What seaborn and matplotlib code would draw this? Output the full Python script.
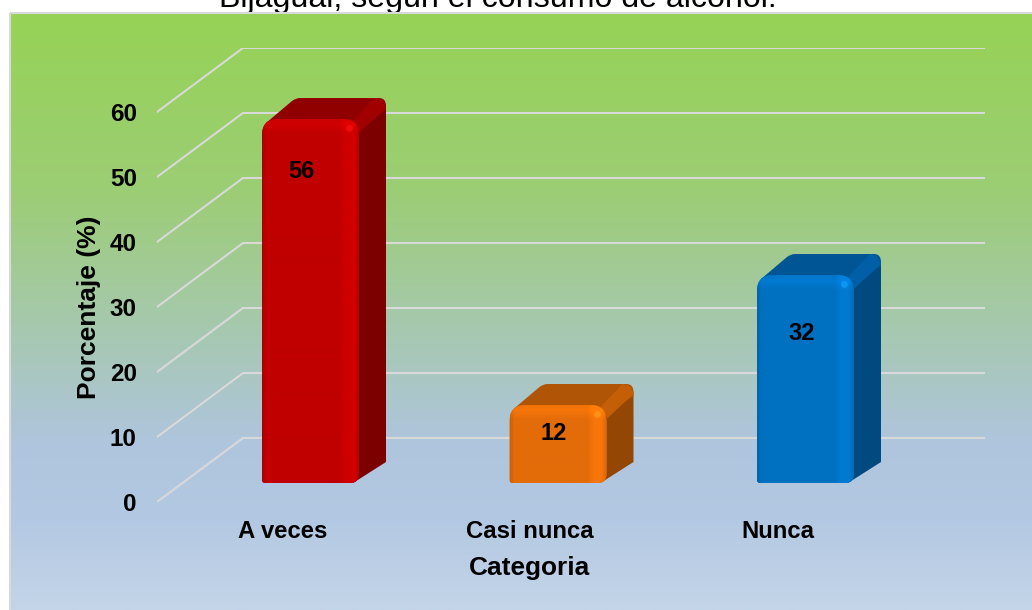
"""Bar chart with a hand-made 3D look: percentages per alcohol category."""
import matplotlib
matplotlib.use("Agg")
import matplotlib.pyplot as plt
import numpy as np
import pandas as pd
import seaborn as sns
from matplotlib.colors import LinearSegmentedColormap
from matplotlib.patches import PathPatch, Polygon, Rectangle
from matplotlib.path import Path
from matplotlib.transforms import IdentityTransform, ScaledTranslation

categories = ["A veces", "Casi nunca", "Nunca"]
percentages = [56, 12, 32]
y_ticks = [0, 10, 20, 30, 40, 50, 60]

face_colors = ["#C00000", "#E36C09", "#0070C0"]
side_colors = ["#7D0000", "#944704", "#004A80"]
top_colors = ["#910000", "#B05506", "#005594"]

W, H = 1032, 610
DPI = 100
AX_LEFT, AX_RIGHT, AX_TOP, AX_BOTTOM = 157, 985, 48, 502  # pixels, from the top
PX_PER_UNIT = 6.5
PX_PER_CAT = 247.5
WALL_DX, WALL_DY = 86, 64  # floor depth of the side gridlines
BAR_DX, BAR_DY = 27, 21  # depth of the bars
BAR_LIFT = 19  # bars stand this far behind the axis plane

sns.set_theme(style="white")
plt.rcParams["font.family"] = ["Liberation Sans", "DejaVu Sans"]

fig = plt.figure(figsize=(W / DPI, H / DPI), dpi=DPI, facecolor="white")

# background panel with its vertical gradient
bg = fig.add_axes([0, 0, 1, 1], zorder=0)
bg.set_xlim(0, W)
bg.set_ylim(H, 0)
bg.axis("off")
bg_cmap = LinearSegmentedColormap.from_list(
    "panel",
    [(0.0, "#96D355"), (0.30, "#9CCD75"), (0.50, "#A5C9A8"),
     (0.72, "#AFC5DD"), (0.85, "#B3C8E2"), (1.0, "#C4D5E9")],
)
bg.imshow(np.linspace(0, 1, 256)[:, None], cmap=bg_cmap, aspect="auto",
          extent=[10, W, H, 13])
bg.set_xlim(0, W)
bg.set_ylim(H, 0)
bg.add_patch(Rectangle((10, 13), W, H, fill=False, ec="#D9D9D9", lw=1.5))

# the title is cut by the image's top edge, as in the original picture
fig.text(497.5 / W, 1 - 7.5 / H, "Bijagual, según el consumo de alcohol.",
         ha="center", va="baseline", fontsize=23.1, color="black", zorder=-1)

ax = fig.add_axes([AX_LEFT / W, 1 - AX_BOTTOM / H,
                   (AX_RIGHT - AX_LEFT) / W, (AX_BOTTOM - AX_TOP) / H], zorder=2)
ax.patch.set_alpha(0)

df = pd.DataFrame({"categoria": categories, "porcentaje": percentages})
sns.barplot(data=df, x="categoria", y="porcentaje", hue="categoria",
            palette=face_colors, legend=False, width=97 / PX_PER_CAT,
            bottom=BAR_LIFT / PX_PER_UNIT, saturation=1, ax=ax, zorder=3)

x_left = (AX_LEFT - 310.5) / PX_PER_CAT
ax.set_xlim(x_left, (AX_RIGHT - 310.5) / PX_PER_CAT)
ax.set_ylim(0, (AX_BOTTOM - AX_TOP) / PX_PER_UNIT)
sns.despine(ax=ax, left=True, bottom=True)

# gridlines: a floor-to-wall diagonal and a horizontal run on the back wall
wall_x = x_left + WALL_DX / PX_PER_CAT
wall_up = WALL_DY / PX_PER_UNIT
for v in y_ticks:
    ax.plot([x_left, wall_x], [v, v + wall_up], color="#D9D9D9", lw=1.5, zorder=1)
    ax.plot([wall_x, ax.get_xlim()[1]], [v + wall_up, v + wall_up],
            color="#D9D9D9", lw=1.5, zorder=1)

ax.set_yticks(y_ticks)
ax.set_yticklabels([str(v) for v in y_ticks], fontsize=17.5, fontweight="bold", color="black")
ax.set_xticks(range(len(categories)))
ax.set_xticklabels(categories, fontsize=17.2, fontweight="bold", color="black")
ax.tick_params(axis="y", length=0, pad=14.5)
ax.tick_params(axis="x", length=0, pad=13)
shift = ScaledTranslation(-28 / DPI, 0, fig.dpi_scale_trans)
for lbl in ax.get_xticklabels():
    lbl.set_transform(lbl.get_transform() + shift)

ax.set_xlabel("Categoria", fontsize=18.9, fontweight="bold", color="black")
ax.set_ylabel("Porcentaje (%)", fontsize=19, fontweight="bold", color="black")
ax.xaxis.set_label_coords((529 - AX_LEFT) / (AX_RIGHT - AX_LEFT),
                          (AX_BOTTOM - 556) / (AX_BOTTOM - AX_TOP))
ax.yaxis.set_label_coords((101 - AX_LEFT) / (AX_RIGHT - AX_LEFT),
                          (AX_BOTTOM - 307) / (AX_BOTTOM - AX_TOP))


def rounded_face(x0, y0, x1, y1, r_top=16, r_bl=3, r_br=9):
    """Closed path for a bar front, in display pixels."""
    verts = [(x0 + r_bl, y0), (x1 - r_br, y0), (x1, y0), (x1, y0 + r_br),
             (x1, y1 - r_top), (x1, y1), (x1 - r_top, y1),
             (x0 + r_top, y1), (x0, y1), (x0, y1 - r_top),
             (x0, y0 + r_bl), (x0, y0), (x0 + r_bl, y0), (x0 + r_bl, y0)]
    codes = [Path.MOVETO, Path.LINETO, Path.CURVE3, Path.CURVE3,
             Path.LINETO, Path.CURVE3, Path.CURVE3,
             Path.LINETO, Path.CURVE3, Path.CURVE3,
             Path.LINETO, Path.CURVE3, Path.CURVE3, Path.CLOSEPOLY]
    return Path(verts, codes)


def face_shading(base, w, h):
    """RGB image: lighter rim along the top and right edge, soft left edge."""
    rgb = np.array(matplotlib.colors.to_rgb(base))
    xs = np.interp(np.arange(w), [0, 4, w - 20, w - 13, w - 6, w - 1], [0.90, 1, 1, 1.09, 1.09, 0.96])
    ys = np.interp(np.arange(h), [0, h - 16, h - 6, h - 1], [1.0, 1.0, 1.09, 1.04])
    shade = np.outer(ys[::-1], xs)[..., None]
    return np.clip(rgb * shade, 0, 1)[::-1]


fig.canvas.draw()
ident = IdentityTransform()
for bar, face, side, top in zip(ax.patches, face_colors, side_colors, top_colors):
    ext = bar.get_window_extent()
    x0, y0, x1, y1 = ext.x0, ext.y0, ext.x1, ext.y1
    bar.set_visible(False)

    # side and top faces behind the front
    ax.add_patch(Polygon([(x1 - 6, y0), (x1 + BAR_DX, y0 + BAR_DY), (x1 + BAR_DX, y1 + BAR_DY - 8),
                          (x1 - 4, y1 - 8)], closed=True, fc=side, ec="none",
                         transform=ident, zorder=3, clip_on=False))
    top_path = Path([(x0 + 4, y1 - 4), (x0 + 30, y1 + BAR_DY - 3), (x0 + 34, y1 + BAR_DY),
                     (x0 + 38, y1 + BAR_DY), (x1 + BAR_DX - 7, y1 + BAR_DY),
                     (x1 + BAR_DX, y1 + BAR_DY), (x1 + BAR_DX, y1 + BAR_DY - 8),
                     (x1 + BAR_DX, y1 + BAR_DY - 12), (x1 - 3, y1 - 11), (x0 + 4, y1 - 4)],
                    [Path.MOVETO, Path.LINETO, Path.CURVE3, Path.CURVE3, Path.LINETO,
                     Path.CURVE3, Path.CURVE3,
                     Path.LINETO, Path.LINETO, Path.CLOSEPOLY])
    ax.add_patch(PathPatch(top_path, fc=top, ec="none", transform=ident, zorder=3, clip_on=False))
    # lighter corner where top and side meet
    corner = np.clip(np.array(matplotlib.colors.to_rgb(top)) * 1.12, 0, 1)
    ax.add_patch(Polygon([(x1 - 6, y1 - 2), (x1 + BAR_DX - 11, y1 + BAR_DY), (x1 + BAR_DX - 4, y1 + BAR_DY - 2),
                          (x1 + BAR_DX, y1 + BAR_DY - 10), (x1 + 1, y1 - 13)], closed=True,
                         fc=corner, ec="none", transform=ident, zorder=3, clip_on=False))

    # front face with shading, clipped to the rounded outline
    w, h = int(round(x1 - x0)), int(round(y1 - y0))
    outline = PathPatch(rounded_face(x0, y0, x1, y1), fc=face, ec="none",
                        transform=ident, zorder=4, clip_on=False)
    ax.add_patch(outline)
    im = ax.imshow(face_shading(face, w, h), extent=[x0, x1, y0, y1], aspect="auto",
                   origin="lower", transform=ident, zorder=4.1, interpolation="bilinear")
    im.set_clip_path(outline)
    spot = np.clip(np.array(matplotlib.colors.to_rgb(face)) * 1.3 + 0.08, 0, 1)
    ax.scatter([x1 - 10], [y1 - 9], s=24, color=[spot], alpha=0.6, linewidths=0,
               transform=ident, zorder=4.2, clip_on=False)

# imshow above resets the limits
ax.set_xlim(x_left, (AX_RIGHT - 310.5) / PX_PER_CAT)
ax.set_ylim(0, (AX_BOTTOM - AX_TOP) / PX_PER_UNIT)
ax.set_aspect("auto")

# data labels sit at irregular heights inside the bars
label_dx = [-9.5, -4, -3.5]
label_dy = [53, 29, 59]
for bar, value, dx, dy in zip(ax.patches, percentages, label_dx, label_dy):
    ax.annotate(str(value), xy=(bar.get_x() + bar.get_width() / 2, bar.get_y() + bar.get_height()),
                xytext=(dx * 72 / DPI, -dy * 72 / DPI), textcoords="offset points",
                ha="center", va="center", fontsize=17, fontweight="bold", color="black", zorder=6)

fig.savefig("out.png", dpi=DPI)
